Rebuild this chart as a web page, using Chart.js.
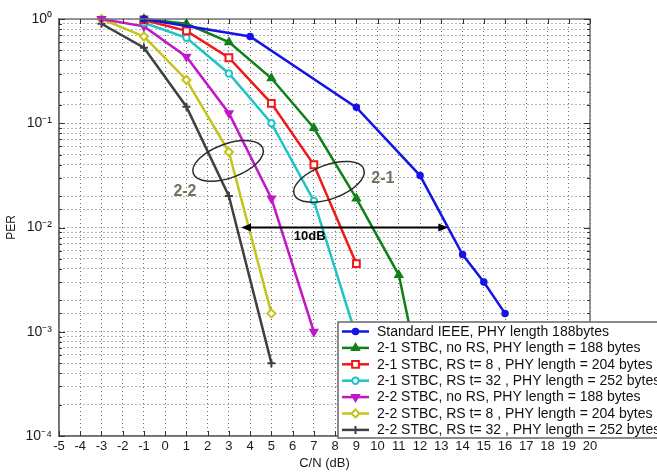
<!DOCTYPE html>
<html>
<head>
<meta charset="utf-8">
<script src="https://cdn.jsdelivr.net/npm/chart.js@4.4.0/dist/chart.umd.min.js"></script>
<style>
  html, body { margin: 0; padding: 0; background: #fff; }
  #wrap { position: relative; width: 657px; height: 475px; }
</style>
</head>
<body>
<div id="wrap"><canvas id="per-chart" width="657" height="475"></canvas></div>
<script>
// series names, as in the legend
const seriesNames = [
  'Standard IEEE, PHY length 188bytes',
  '2-1 STBC, no RS, PHY length = 188 bytes',
  '2-1 STBC, RS t= 8 , PHY length = 204 bytes',
  '2-1 STBC, RS t= 32 , PHY length = 252 bytes',
  '2-2 STBC, no RS, PHY length = 188 bytes',
  '2-2 STBC, RS t= 8 , PHY length = 204 bytes',
  '2-2 STBC, RS t= 32 , PHY length = 252 bytes'
];

// C/N (dB) and PER values
const cnStandard = [-1, 4, 9, 12, 14, 15, 16];
const perStandard = [1.0, 0.68, 0.142, 0.0315, 0.0055, 0.003, 0.0015];

const cn21NoRs = [-1, 1, 3, 5, 7, 9, 11, 12];
const per21NoRs = [1.0, 0.9, 0.6, 0.27, 0.09, 0.019, 0.0035, 0.00037];

const cn21Rs8 = [-1, 1, 3, 5, 7, 9];
const per21Rs8 = [0.98, 0.77, 0.425, 0.155, 0.04, 0.0045];

const cn21Rs32 = [-1, 1, 3, 5, 7, 9];
const per21Rs32 = [0.92, 0.66, 0.3, 0.1, 0.018, 0.0009];

const cn22NoRs = [-3, -1, 1, 3, 5, 7];
const per22NoRs = [1.0, 0.85, 0.435, 0.125, 0.019, 0.001];

const cn22Rs8 = [-3, -1, 1, 3, 5];
const per22Rs8 = [1.0, 0.68, 0.26, 0.053, 0.0015];

const cn22Rs32 = [-3, -1, 1, 3, 5];
const per22Rs32 = [0.9, 0.53, 0.144, 0.02, 0.0005];

const xTickValues = [-5, -4, -3, -2, -1, 0, 1, 2, 3, 4, 5, 6, 7, 8, 9, 10, 11, 12, 13, 14, 15, 16, 17, 18, 19, 20];
const yDecades = [1, 0.1, 0.01, 0.001, 0.0001];
const yDecadeLabels = ['10\u2070', '10\u207B\u00B9', '10\u207B\u00B2', '10\u207B\u00B3', '10\u207B\u2074'];

const seriesX = [cnStandard, cn21NoRs, cn21Rs8, cn21Rs32, cn22NoRs, cn22Rs8, cn22Rs32];
const seriesY = [perStandard, per21NoRs, per21Rs8, per21Rs32, per22NoRs, per22Rs8, per22Rs32];

const styles = [
  { color: '#1414e6', fill: '#1414e6', point: 'circle', r: 3, bw: 1.5, rot: 0 },
  { color: '#12801a', fill: '#12801a', point: 'triangle', r: 4.5, bw: 1.5, rot: 0 },
  { color: '#f01818', fill: '#ffffff', point: 'rect', r: 4.8, bw: 2, rot: 0 },
  { color: '#1cc4c8', fill: '#ffffff', point: 'circle', r: 3.2, bw: 2, rot: 0 },
  { color: '#c018c8', fill: '#c018c8', point: 'triangle', r: 4.5, bw: 1.5, rot: 180 },
  { color: '#c4c41a', fill: '#ffffff', point: 'rectRot', r: 4, bw: 2, rot: 0 },
  { color: '#404040', fill: '#404040', point: 'cross', r: 4, bw: 2, rot: 0 }
];

const FONT = '"Liberation Sans", Arial, sans-serif';

function drawMarker(ctx, st, x, y) {
  const r = st.r;
  ctx.save();
  ctx.strokeStyle = st.color;
  ctx.fillStyle = st.fill;
  ctx.lineWidth = st.bw;
  ctx.beginPath();
  if (st.point === 'circle') {
    ctx.arc(x, y, r, 0, Math.PI * 2);
  } else if (st.point === 'triangle') {
    const d = st.rot ? -1 : 1;
    ctx.moveTo(x, y - d * r);
    ctx.lineTo(x + r * 0.87, y + d * r * 0.5);
    ctx.lineTo(x - r * 0.87, y + d * r * 0.5);
    ctx.closePath();
  } else if (st.point === 'rect') {
    const s = r * Math.SQRT1_2;
    ctx.rect(x - s, y - s, 2 * s, 2 * s);
  } else if (st.point === 'rectRot') {
    ctx.moveTo(x, y - r); ctx.lineTo(x + r, y); ctx.lineTo(x, y + r); ctx.lineTo(x - r, y);
    ctx.closePath();
  } else if (st.point === 'cross') {
    ctx.moveTo(x - r, y); ctx.lineTo(x + r, y);
    ctx.moveTo(x, y - r); ctx.lineTo(x, y + r);
  }
  if (st.point !== 'cross') ctx.fill();
  ctx.stroke();
  ctx.restore();
}

const overlay = {
  id: 'overlay',
  afterDatasetsDraw(chart) {
    const ctx = chart.ctx;
    const xs = chart.scales.x, ys = chart.scales.y;
    ctx.save();
    // ellipses around groups
    const ellipses = [[2.96, 0.0435], [7.71, 0.0274]];
    ctx.strokeStyle = '#2a2a2a';
    ctx.lineWidth = 1.5;
    ellipses.forEach(([ex, ey]) => {
      ctx.beginPath();
      ctx.ellipse(xs.getPixelForValue(ex), ys.getPixelForValue(ey), 37, 17, -20 * Math.PI / 180, 0, Math.PI * 2);
      ctx.stroke();
    });
    // group labels
    ctx.fillStyle = '#77705e';
    ctx.font = 'bold 16px ' + FONT;
    ctx.textAlign = 'center';
    ctx.textBaseline = 'middle';
    ctx.fillText('2-2', xs.getPixelForValue(0.93), ys.getPixelForValue(0.0219));
    ctx.fillText('2-1', xs.getPixelForValue(10.25), ys.getPixelForValue(0.0292));
    // 10 dB arrow
    const ay = ys.getPixelForValue(0.01);
    const ax1 = xs.getPixelForValue(3.57), ax2 = xs.getPixelForValue(13.33);
    ctx.strokeStyle = '#000';
    ctx.fillStyle = '#000';
    ctx.lineWidth = 2;
    ctx.beginPath();
    ctx.moveTo(ax1 + 8, ay); ctx.lineTo(ax2 - 8, ay);
    ctx.stroke();
    ctx.beginPath();
    ctx.moveTo(ax1, ay); ctx.lineTo(ax1 + 10, ay - 4); ctx.lineTo(ax1 + 10, ay + 4); ctx.closePath();
    ctx.moveTo(ax2, ay); ctx.lineTo(ax2 - 10, ay - 4); ctx.lineTo(ax2 - 10, ay + 4); ctx.closePath();
    ctx.fill();
    ctx.font = 'bold 13px ' + FONT;
    ctx.fillText('10dB', xs.getPixelForValue(6.8), ay + 9);
    ctx.restore();
  },
  afterDraw(chart) {
    const ctx = chart.ctx;
    const { left, right, top, bottom } = chart.chartArea;
    const xs = chart.scales.x, ys = chart.scales.y;
    ctx.save();
    // box
    ctx.strokeStyle = '#777';
    ctx.lineWidth = 1.5;
    ctx.strokeRect(left, top, right - left, bottom - top);
    // inward ticks
    ctx.strokeStyle = '#333';
    ctx.lineWidth = 1;
    ctx.beginPath();
    xTickValues.forEach(v => {
      const px = Math.round(xs.getPixelForValue(v)) + 0.5;
      ctx.moveTo(px, bottom); ctx.lineTo(px, bottom - 5);
      ctx.moveTo(px, top); ctx.lineTo(px, top + 5);
    });
    ys.ticks.forEach(t => {
      const py = Math.round(ys.getPixelForValue(t.value)) + 0.5;
      const major = yDecades.some(d => Math.abs(t.value / d - 1) < 1e-6);
      const len = major ? 6 : 3;
      ctx.moveTo(left, py); ctx.lineTo(left + len, py);
      ctx.moveTo(right, py); ctx.lineTo(right - len, py);
    });
    ctx.stroke();

    // legend box inside the axes
    const lx = 338, ly = 322, rowH = 16.4;
    ctx.fillStyle = '#fff';
    ctx.fillRect(lx, ly, 340, 116);
    ctx.strokeStyle = '#666';
    ctx.lineWidth = 1.5;
    ctx.strokeRect(lx, ly, 340, 116);
    ctx.font = '14px ' + FONT;
    ctx.textBaseline = 'middle';
    ctx.textAlign = 'left';
    seriesNames.forEach((name, i) => {
      const yy = ly + 9.5 + i * rowH;
      const st = styles[i];
      ctx.strokeStyle = st.color;
      ctx.lineWidth = 2.5;
      ctx.beginPath();
      ctx.moveTo(lx + 4, yy); ctx.lineTo(lx + 31, yy);
      ctx.stroke();
      drawMarker(ctx, st, lx + 17.5, yy);
      ctx.fillStyle = '#111';
      ctx.fillText(name, lx + 39, yy + 0.5);
    });
    ctx.restore();
  }
};

const datasets = seriesNames.map((name, i) => ({
  label: name,
  data: seriesX[i].map((x, j) => ({ x, y: seriesY[i][j] })),
  borderColor: styles[i].color,
  backgroundColor: styles[i].fill,
  pointStyle: styles[i].point,
  pointRotation: styles[i].rot,
  pointRadius: styles[i].r,
  pointBorderColor: styles[i].color,
  pointBackgroundColor: styles[i].fill,
  pointBorderWidth: styles[i].bw,
  borderWidth: 2.5,
  tension: 0,
  clip: 6
}));

new Chart(document.getElementById('per-chart'), {
  type: 'line',
  data: { datasets },
  plugins: [overlay],
  options: {
    responsive: false,
    animation: false,
    events: [],
    layout: { padding: { top: 19, right: 67, left: 0, bottom: 0 } },
    plugins: { legend: { display: false }, tooltip: { enabled: false } },
    scales: {
      x: {
        type: 'linear',
        min: -5,
        max: 20,
        afterBuildTicks: s => { s.ticks = xTickValues.map(v => ({ value: v })); },
        afterFit: s => { s.height = 39; },
        ticks: { autoSkip: false, maxRotation: 0, padding: 3, color: '#1a1a1a', font: { size: 13, family: FONT } },
        grid: { color: '#6a6a6a', lineWidth: 1, drawTicks: false },
        border: { display: true, color: '#555', width: 1.5, dash: [1, 3] },
        title: { display: true, text: 'C/N (dB)', color: '#1a1a1a', font: { size: 13, family: FONT }, padding: { top: 0, bottom: 4 } }
      },
      y: {
        type: 'logarithmic',
        min: 0.0001,
        max: 1,
        afterFit: s => { s.width = 59; },
        ticks: {
          autoSkip: false,
          padding: 7,
          color: '#1a1a1a',
          font: { size: 14, family: FONT },
          callback: v => {
            const k = yDecades.findIndex(d => Math.abs(v / d - 1) < 1e-6);
            return k >= 0 ? yDecadeLabels[k] : '';
          }
        },
        grid: { color: '#6a6a6a', lineWidth: 1, drawTicks: false },
        border: { display: true, color: '#555', width: 1.5, dash: [1, 3] },
        title: { display: true, text: 'PER', color: '#1a1a1a', font: { size: 12, family: FONT }, padding: { top: 4, bottom: 0 } }
      }
    }
  }
});
</script>
</body>
</html>
